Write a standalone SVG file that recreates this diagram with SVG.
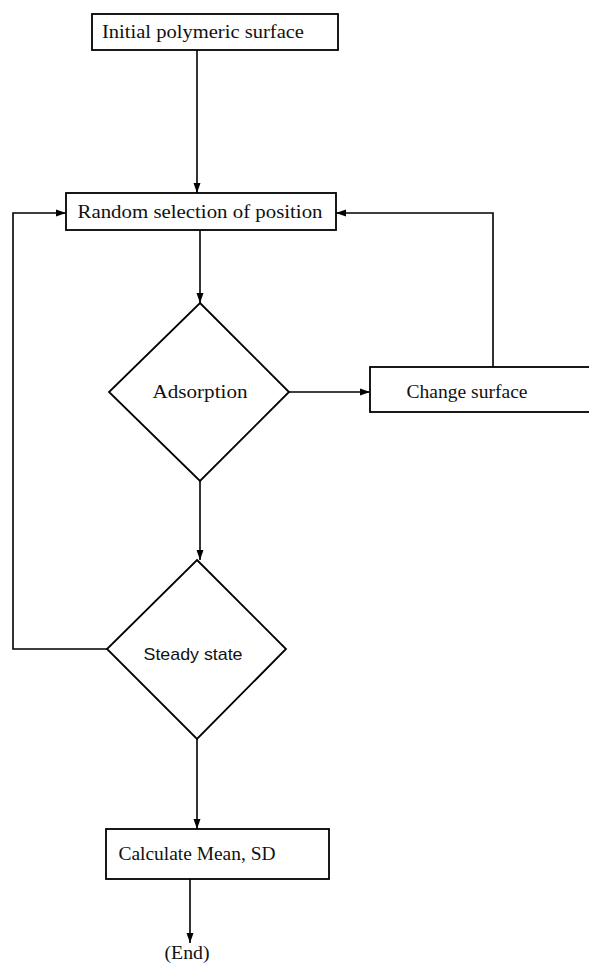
<svg xmlns="http://www.w3.org/2000/svg" width="589" height="966" viewBox="0 0 589 966">
<style>
.box{fill:#fff;stroke:#000;stroke-width:1.8}
.dia{fill:#fff;stroke:#000;stroke-width:1.8}
.ln{fill:none;stroke:#000;stroke-width:1.6}
.t{font-family:"Liberation Serif","Times New Roman",serif;font-size:19.5px;fill:#111;text-anchor:middle}
.s{font-family:"Liberation Sans",Arial,sans-serif;font-size:17px;fill:#111;text-anchor:middle}
</style>
<defs>
<marker id="ah" viewBox="0 0 10 10" refX="10" refY="5" markerWidth="10" markerHeight="10" markerUnits="userSpaceOnUse" orient="auto">
<path d="M0,1.5 L10,5 L0,8.5 Z" fill="#000"/>
</marker>
</defs>
<rect width="589" height="966" fill="#fff"/>
<g id="connectors">
<line class="ln" x1="197" y1="50" x2="197" y2="193" marker-end="url(#ah)"/>
<line class="ln" x1="200" y1="230" x2="200" y2="303" marker-end="url(#ah)"/>
<line class="ln" x1="289" y1="392" x2="370" y2="392" marker-end="url(#ah)"/>
<polyline class="ln" points="493,367 493,213 336,213" marker-end="url(#ah)"/>
<line class="ln" x1="200" y1="481" x2="200" y2="560" marker-end="url(#ah)"/>
<polyline class="ln" points="107,649 13,649 13,213 66,213" marker-end="url(#ah)"/>
<line class="ln" x1="197" y1="739" x2="197" y2="829" marker-end="url(#ah)"/>
<line class="ln" x1="190" y1="879" x2="190" y2="943" marker-end="url(#ah)"/>
</g>
<g id="initial">
<rect class="box" x="92" y="14" width="246" height="36"/>
<text class="t" x="203" y="38" textLength="202" lengthAdjust="spacingAndGlyphs">Initial polymeric surface</text>
</g>
<g id="random">
<rect class="box" x="66" y="193" width="270" height="37"/>
<text class="t" x="200" y="218" textLength="245" lengthAdjust="spacingAndGlyphs">Random selection of position</text>
</g>
<g id="adsorption">
<polygon class="dia" points="200,303 289,392 200,481 109,392"/>
<text class="t" x="200" y="398" textLength="95" lengthAdjust="spacingAndGlyphs">Adsorption</text>
</g>
<g id="change">
<rect class="box" x="370" y="367" width="225" height="45"/>
<text class="t" x="467" y="398" textLength="121" lengthAdjust="spacingAndGlyphs">Change surface</text>
</g>
<g id="steady">
<polygon class="dia" points="197,560 286,649 197,739 107,649"/>
<text class="s" x="193" y="660" textLength="99" lengthAdjust="spacingAndGlyphs">Steady state</text>
</g>
<g id="calculate">
<rect class="box" x="106" y="829" width="223" height="50"/>
<text class="t" x="197" y="860" textLength="157" lengthAdjust="spacingAndGlyphs">Calculate Mean, SD</text>
</g>
<g id="end">
<text class="t" x="187" y="959" textLength="45" lengthAdjust="spacingAndGlyphs">(End)</text>
</g>
</svg>
